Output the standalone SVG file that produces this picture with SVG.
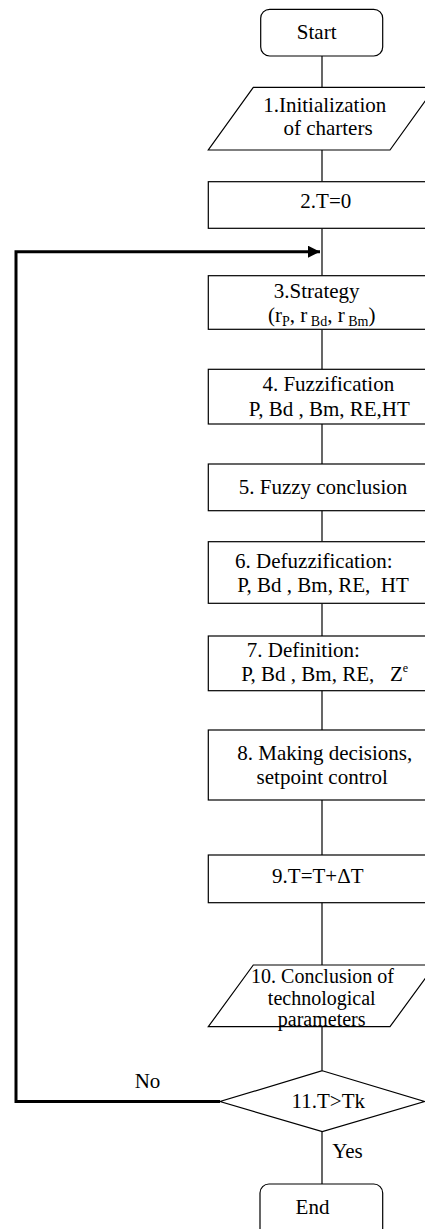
<svg xmlns="http://www.w3.org/2000/svg" width="425" height="1229" viewBox="0 0 425 1229">
<style>
.s{fill:#fff;stroke:#000;stroke-width:1.2}
.c{fill:none;stroke:#000;stroke-width:1.2}
.fb{fill:none;stroke:#000;stroke-width:3}
.t{font-family:'Liberation Serif','DejaVu Serif',serif;font-size:21px;fill:#000;text-anchor:middle;white-space:pre}
.sub{font-size:14px}
.sup{font-size:12px}
.sm{font-size:20px}
</style>
<defs>
<marker id="ah" markerWidth="12" markerHeight="12" refX="12" refY="6" orient="auto" markerUnits="userSpaceOnUse">
<path d="M0,0 L12,6 L0,12 z" fill="#000"/>
</marker>
</defs>
<rect width="425" height="1229" fill="#fff"/>
<g id="connectors">
<line class="c" x1="322" y1="56" x2="322" y2="87.5"/>
<line class="c" x1="322" y1="150" x2="322" y2="181.5"/>
<line class="c" x1="322" y1="228.5" x2="322" y2="275.5"/>
<line class="c" x1="322" y1="329.5" x2="322" y2="369.5"/>
<line class="c" x1="322" y1="424" x2="322" y2="464"/>
<line class="c" x1="322" y1="510.5" x2="322" y2="541.5"/>
<line class="c" x1="322" y1="603.5" x2="322" y2="636"/>
<line class="c" x1="322" y1="690.5" x2="322" y2="730"/>
<line class="c" x1="322" y1="800" x2="322" y2="855"/>
<line class="c" x1="322" y1="902.5" x2="322" y2="965"/>
<line class="c" x1="322" y1="1026.5" x2="322" y2="1070.5"/>
<line class="c" x1="322" y1="1131.5" x2="322" y2="1184"/>
<polyline class="fb" points="220,1101.5 16,1101.5 16,251.7 320,251.7" marker-end="url(#ah)"/>
<text class="t" x="147.5" y="1088.3">No</text>
<text class="t" x="347.5" y="1158.3">Yes</text>
</g>
<g id="start">
<rect class="s" x="260.7" y="9.3" width="122" height="46.7" rx="9"/>
<text class="t" x="316.7" y="39">Start</text>
</g>
<g id="n1">
<polygon class="s" points="253.3,87.3 435,87.3 390,150 208.3,150"/>
<text class="t" x="324.7" y="111.7">1.Initialization</text>
<text class="t" x="328" y="135">of charters</text>
</g>
<g id="n2">
<rect class="s" x="208.3" y="181.7" width="230" height="46.6"/>
<text class="t" x="325.8" y="208">2.T=0</text>
</g>
<g id="n3">
<rect class="s" x="208.3" y="275.7" width="230" height="53.6"/>
<text class="t" x="316.7" y="298">3.Strategy</text>
<text class="t" x="321.7" y="321.7">(r<tspan class="sub" dy="4">P</tspan><tspan dy="-4">, r</tspan><tspan class="sub" dy="4"> Bd</tspan><tspan dy="-4">, r</tspan><tspan class="sub" dy="4"> Bm</tspan><tspan dy="-4">)</tspan></text>
</g>
<g id="n4">
<rect class="s" x="208.3" y="369.3" width="230" height="54.7"/>
<text class="t" x="328.3" y="390.7">4. Fuzzification</text>
<text class="t" x="329.3" y="416">P, Bd , Bm, RE,HT</text>
</g>
<g id="n5">
<rect class="s" x="208.3" y="464" width="230" height="46.7"/>
<text class="t" x="323" y="494">5. Fuzzy conclusion</text>
</g>
<g id="n6">
<rect class="s" x="208.3" y="541.7" width="230" height="61.6"/>
<text class="t" x="313.8" y="568.3">6. Defuzzification:</text>
<text class="t" x="323" y="591.7">P, Bd , Bm, RE,  HT</text>
</g>
<g id="n7">
<rect class="s" x="208.3" y="636" width="230" height="54.7"/>
<text class="t" x="303.3" y="657.3">7. Definition:</text>
<text class="t" x="324.7" y="681">P, Bd , Bm, RE,   Z<tspan class="sup" dy="-9">e</tspan></text>
</g>
<g id="n8">
<rect class="s" x="208.3" y="730" width="230" height="70"/>
<text class="t" x="324.7" y="760">8. Making decisions,</text>
<text class="t" x="322.2" y="784">setpoint control</text>
</g>
<g id="n9">
<rect class="s" x="208.3" y="855" width="230" height="47.7"/>
<text class="t" x="317.8" y="883.3">9.T=T+ΔT</text>
</g>
<g id="n10">
<polygon class="s" points="253.3,965 435,965 390,1026.7 208.3,1026.7"/>
<text class="t sm" x="322.5" y="983.3">10. Conclusion of</text>
<text class="t sm" x="321.7" y="1004.5">technological</text>
<text class="t sm" x="321.7" y="1026">parameters</text>
</g>
<g id="n11">
<polygon class="s" points="322.3,1070.7 424.5,1101.5 322.3,1131.7 220,1101.5"/>
<text class="t" x="328.3" y="1108.3">11.T&gt;Tk</text>
</g>
<g id="end">
<rect class="s" x="260" y="1184" width="122.7" height="60" rx="9"/>
<text class="t" x="312.5" y="1214">End</text>
</g>
</svg>
